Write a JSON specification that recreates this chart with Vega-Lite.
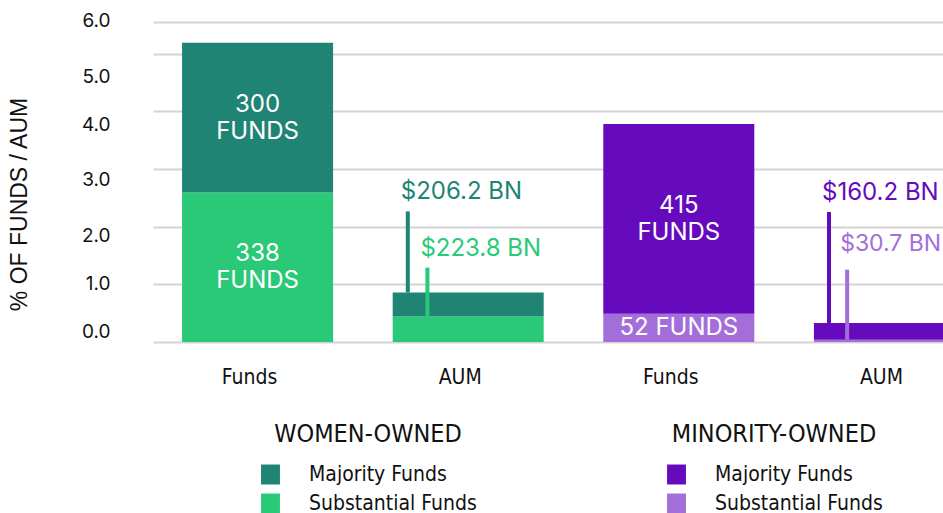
{
  "$schema": "https://vega.github.io/schema/vega-lite/v6.json",
  "width": 790,
  "height": 323,
  "autosize": "none",
  "padding": {"left": 153, "top": 19, "right": 0, "bottom": 171},
  "data": {
    "values": [
      {"cat": "Women|Funds", "group": "Women", "metric": "Funds", "series": "Substantial Funds", "value": 2.59, "label": "338\nFUNDS"},
      {"cat": "Women|Funds", "group": "Women", "metric": "Funds", "series": "Majority Funds", "value": 2.60, "label": "300\nFUNDS"},
      {"cat": "Women|AUM", "group": "Women", "metric": "AUM", "series": "Substantial Funds", "value": 0.44, "label": "$223.8 BN"},
      {"cat": "Women|AUM", "group": "Women", "metric": "AUM", "series": "Majority Funds", "value": 0.42, "label": "$206.2 BN"},
      {"cat": "Minority|Funds", "group": "Minority", "metric": "Funds", "series": "Substantial Funds", "value": 0.49, "label": "52 FUNDS"},
      {"cat": "Minority|Funds", "group": "Minority", "metric": "Funds", "series": "Majority Funds", "value": 3.29, "label": "415\nFUNDS"},
      {"cat": "Minority|AUM", "group": "Minority", "metric": "AUM", "series": "Substantial Funds", "value": 0.04, "label": "$30.7 BN"},
      {"cat": "Minority|AUM", "group": "Minority", "metric": "AUM", "series": "Majority Funds", "value": 0.29, "label": "$160.2 BN"}
    ]
  },
  "transform": [
    {"stack": "value", "groupby": ["cat"], "sort": [{"field": "series", "order": "descending"}], "as": ["y0", "y1"]},
    {"calculate": "(datum.y0 + datum.y1) / 2", "as": "mid"}
  ],
  "layer": [
    {
      "transform": [{"filter": "datum.group === 'Women'"}],
      "encoding": {
        "x": {
          "field": "cat", "type": "nominal", "title": null, "sort": null,
          "scale": {"domain": ["Women|Funds", "Women|AUM", "Minority|Funds", "Minority|AUM"], "range": [0, 841], "paddingInner": 0.283, "paddingOuter": 0.138},
          "axis": {"labelExpr": "split(datum.value, '|')[1]", "labelFont": "DejaVu Sans Condensed", "labelFontSize": 21, "labelColor": "#111111", "labelPadding": 24, "labelOffset": -8, "ticks": false, "domain": false, "grid": false, "labelAngle": 0}
        },
        "color": {
          "field": "series", "type": "nominal",
          "scale": {"domain": ["Majority Funds", "Substantial Funds"], "range": ["#1F8474", "#2AC978"]},
          "legend": {"title": "WOMEN-OWNED", "orient": "none", "legendX": 107, "legendY": 403, "direction": "vertical", "titleFont": "DejaVu Sans Condensed", "titleFontSize": 25, "titleFontWeight": "normal", "titleColor": "#111111", "titleAnchor": "middle", "titleAlign": "center", "titlePadding": 17, "titleLimit": 0, "labelLimit": 0, "labelFont": "DejaVu Sans Condensed", "labelFontSize": 21, "labelColor": "#111111", "symbolType": "M-0.9,-0.95H0.9V0.95H-0.9Z", "symbolSize": 441, "symbolStrokeWidth": 0, "symbolOpacity": 1, "rowPadding": 7, "labelOffset": 28}
        }
      },
      "layer": [
        {
          "mark": {"type": "bar", "clip": true},
          "encoding": {
            "y": {"field": "y1", "type": "quantitative", "scale": {"domain": [0, 5.6], "nice": false, "zero": false},
              "axis": {"orient": "left", "values": [0.184, 1.011, 1.848, 2.814, 3.767, 4.605, 5.575], "labelExpr": "format(round(datum.value * 1.08), '.1f')", "grid": false, "ticks": false, "domain": false, "labelFont": "Inter", "labelFontSize": 19, "labelColor": "#111111", "labelPadding": 43, "title": "% OF FUNDS / AUM", "titleFont": "Liberation Sans", "titleFontSize": 23, "titleFontWeight": "normal", "titleColor": "#111111", "titleX": -134, "titleY": 185, "titleBaseline": "middle", "titleAlign": "center", "titleAngle": 270}},
            "y2": {"field": "y0"}
          }
        },
        {
          "transform": [{"filter": "datum.metric === 'Funds' && indexof(datum.label, '\\n') >= 0"}],
          "mark": {"type": "text", "color": "#FFFFFF", "font": "Inter", "fontSize": 24, "lineBreak": "\n", "lineHeight": 27, "baseline": "middle", "align": "center", "dy": -13},
          "encoding": {
            "y": {"field": "mid", "type": "quantitative"},
            "text": {"field": "label", "type": "nominal"},
            "color": {"value": "#FFFFFF"}
          }
        },
        {
          "transform": [{"filter": "datum.metric === 'AUM' && datum.series === 'Majority Funds'"}],
          "mark": {"type": "rule", "strokeWidth": 4, "y2Offset": -81},
          "encoding": {
            "x": {"field": "cat", "type": "nominal", "bandPosition": 0.1},
            "y": {"field": "y1", "type": "quantitative"},
            "y2": {"field": "y1"}
          }
        },
        {
          "transform": [{"filter": "datum.metric === 'AUM' && datum.series === 'Majority Funds'"}],
          "mark": {"type": "text", "font": "Inter", "fontSize": 24, "align": "left", "baseline": "middle", "dx": -7, "dy": -100},
          "encoding": {
            "x": {"field": "cat", "type": "nominal", "bandPosition": 0.1},
            "y": {"field": "y1", "type": "quantitative"},
            "text": {"field": "label", "type": "nominal"}
          }
        },
        {
          "transform": [{"filter": "datum.metric === 'AUM' && datum.series === 'Substantial Funds'"}],
          "mark": {"type": "rule", "strokeWidth": 4, "y2Offset": -49},
          "encoding": {
            "x": {"field": "cat", "type": "nominal", "bandPosition": 0.23},
            "y": {"field": "y1", "type": "quantitative"},
            "y2": {"field": "y1"}
          }
        },
        {
          "transform": [{"filter": "datum.metric === 'AUM' && datum.series === 'Substantial Funds'"}],
          "mark": {"type": "text", "font": "Inter", "fontSize": 24, "align": "left", "baseline": "middle", "dx": -7, "dy": -68},
          "encoding": {
            "x": {"field": "cat", "type": "nominal", "bandPosition": 0.23},
            "y": {"field": "y1", "type": "quantitative"},
            "text": {"field": "label", "type": "nominal"}
          }
        }
      ]
    },
    {
      "transform": [{"filter": "datum.group === 'Minority'"}],
      "encoding": {
        "x": {"field": "cat", "type": "nominal", "title": null, "sort": null},
        "color": {
          "field": "series", "type": "nominal",
          "scale": {"domain": ["Majority Funds", "Substantial Funds"], "range": ["#650BBD", "#A36ED9"]},
          "legend": {"title": "MINORITY-OWNED", "orient": "none", "legendX": 513, "legendY": 403, "direction": "vertical", "titleFont": "DejaVu Sans Condensed", "titleFontSize": 25, "titleFontWeight": "normal", "titleColor": "#111111", "titleAnchor": "middle", "titleAlign": "center", "titlePadding": 17, "titleLimit": 0, "labelLimit": 0, "labelFont": "DejaVu Sans Condensed", "labelFontSize": 21, "labelColor": "#111111", "symbolType": "M-0.9,-0.95H0.9V0.95H-0.9Z", "symbolSize": 441, "symbolStrokeWidth": 0, "symbolOpacity": 1, "rowPadding": 7, "labelOffset": 28}
        }
      },
      "layer": [
        {
          "mark": {"type": "bar", "clip": true},
          "encoding": {
            "y": {"field": "y1", "type": "quantitative",
              "axis": {"orient": "left", "values": [0, 1, 2, 3, 4, 5, 5.545], "grid": true, "gridColor": "#D3D3D3", "gridWidth": 2, "labels": false, "ticks": false, "domain": false, "title": null}},
            "y2": {"field": "y0"}
          }
        },
        {
          "transform": [{"filter": "datum.metric === 'Funds' && indexof(datum.label, '\\n') >= 0"}],
          "mark": {"type": "text", "color": "#FFFFFF", "font": "Inter", "fontSize": 24, "lineBreak": "\n", "lineHeight": 27, "baseline": "middle", "align": "center", "dy": -13},
          "encoding": {
            "y": {"field": "mid", "type": "quantitative"},
            "text": {"field": "label", "type": "nominal"},
            "color": {"value": "#FFFFFF"}
          }
        },
        {
          "transform": [{"filter": "datum.metric === 'Funds' && indexof(datum.label, '\\n') < 0"}],
          "mark": {"type": "text", "color": "#FFFFFF", "font": "Inter", "fontSize": 24, "baseline": "middle", "align": "center"},
          "encoding": {
            "y": {"field": "mid", "type": "quantitative"},
            "text": {"field": "label", "type": "nominal"},
            "color": {"value": "#FFFFFF"}
          }
        },
        {
          "transform": [{"filter": "datum.metric === 'AUM' && datum.series === 'Majority Funds'"}],
          "mark": {"type": "rule", "strokeWidth": 4, "y2Offset": -111},
          "encoding": {
            "x": {"field": "cat", "type": "nominal", "bandPosition": 0.1},
            "y": {"field": "y1", "type": "quantitative"},
            "y2": {"field": "y1"}
          }
        },
        {
          "transform": [{"filter": "datum.metric === 'AUM' && datum.series === 'Majority Funds'"}],
          "mark": {"type": "text", "font": "Inter", "fontSize": 24, "align": "left", "baseline": "middle", "dx": -7, "dy": -130},
          "encoding": {
            "x": {"field": "cat", "type": "nominal", "bandPosition": 0.1},
            "y": {"field": "y1", "type": "quantitative"},
            "text": {"field": "label", "type": "nominal"}
          }
        },
        {
          "transform": [{"filter": "datum.metric === 'AUM' && datum.series === 'Substantial Funds'"}],
          "mark": {"type": "rule", "strokeWidth": 4, "y2Offset": -70},
          "encoding": {
            "x": {"field": "cat", "type": "nominal", "bandPosition": 0.22},
            "y": {"field": "y1", "type": "quantitative"},
            "y2": {"field": "y1"}
          }
        },
        {
          "transform": [{"filter": "datum.metric === 'AUM' && datum.series === 'Substantial Funds'"}],
          "mark": {"type": "text", "font": "Inter", "fontSize": 23, "align": "left", "baseline": "middle", "dx": -7, "dy": -96},
          "encoding": {
            "x": {"field": "cat", "type": "nominal", "bandPosition": 0.22},
            "y": {"field": "y1", "type": "quantitative"},
            "text": {"field": "label", "type": "nominal"}
          }
        }
      ]
    }
  ],
  "resolve": {"scale": {"color": "independent"}, "axis": {"y": "independent"}},
  "config": {
    "view": {"stroke": null},
    "legend": {"padding": 0}
  }
}
